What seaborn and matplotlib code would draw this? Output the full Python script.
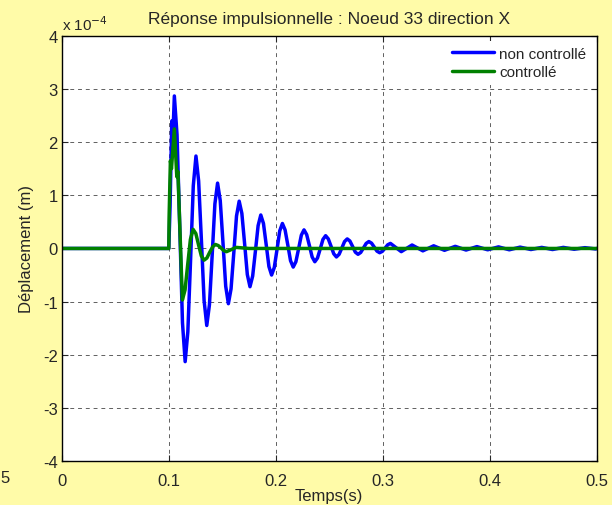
import pandas as pd
import matplotlib
matplotlib.use("Agg")
import matplotlib.pyplot as plt
import seaborn as sns

# displacement values are in units of 1e-4 m
t_non = [0.0, 0.1, 0.1012, 0.1028, 0.1038, 0.1052,
         0.1077, 0.1103, 0.1128, 0.1153,
         0.1178, 0.1204, 0.1229, 0.1254,
         0.1279, 0.1305, 0.133, 0.1355,
         0.138, 0.1406, 0.1431, 0.1456,
         0.1481, 0.1507, 0.1532, 0.1557,
         0.1582, 0.1608, 0.1633, 0.1658,
         0.1683, 0.1709, 0.1734, 0.1759,
         0.1784, 0.181, 0.1835, 0.186,
         0.1885, 0.1911, 0.1936, 0.1961,
         0.1986, 0.2012, 0.2037, 0.2062,
         0.2087, 0.2113, 0.2138, 0.2163,
         0.2188, 0.2214, 0.2239, 0.2264,
         0.2289, 0.2315, 0.234, 0.2365,
         0.239, 0.2416, 0.2441, 0.2466,
         0.2491, 0.2517, 0.2542, 0.2567,
         0.2592, 0.2618, 0.2643, 0.2668,
         0.2693, 0.2719, 0.2744, 0.2769,
         0.2794, 0.282, 0.2845, 0.287,
         0.2895, 0.2921, 0.2946, 0.2971,
         0.2996, 0.3022, 0.3047, 0.3072,
         0.3173, 0.3274, 0.3375, 0.3476, 0.3577, 0.3678, 0.3779, 0.388,
         0.3981, 0.4082, 0.4183, 0.4284, 0.4385, 0.4486, 0.4587, 0.4688,
         0.4789, 0.489, 0.4991, 0.5]
y_non = [0.0, 0.0, 0.8, 2.4, 2.1, 2.87,
         2.14, 0.37, -1.40, -2.13,
         -1.57, -0.20, 1.18, 1.74,
         1.27, 0.15, -0.98, -1.45,
         -1.06, -0.11, 0.84, 1.23,
         0.90, 0.095, -0.71, -1.04,
         -0.76, -0.075, 0.61, 0.89,
         0.66, 0.085, -0.49, -0.72,
         -0.52, -0.045, 0.43, 0.63,
         0.47, 0.065, -0.34, -0.50,
         -0.36, -0.015, 0.33, 0.47,
         0.35, 0.06, -0.23, -0.35,
         -0.25, 0.0, 0.25, 0.35,
         0.26, 0.05, -0.16, -0.25,
         -0.18, -0.005, 0.17, 0.24,
         0.18, 0.04, -0.10, -0.16,
         -0.11, 0.01, 0.13, 0.18,
         0.14, 0.035, -0.07, -0.11,
         -0.075, 0.01, 0.095, 0.13,
         0.10, 0.025, -0.05, -0.08,
         -0.055, 0.008, 0.07, 0.095,
         -0.06, 0.065, -0.045, 0.05, -0.035, 0.04, -0.03, 0.035,
         -0.025, 0.03, -0.025, 0.025, -0.02, 0.02, -0.02, 0.02,
         -0.015, 0.015, -0.01, 0.0]

t_ctrl = [0.0, 0.1, 0.1003, 0.1015, 0.1025, 0.1052, 0.1075, 0.1085, 0.1127,
          0.1152, 0.1177, 0.1202, 0.1227,
          0.1253, 0.1278, 0.1304, 0.133,
          0.1356, 0.1383, 0.141, 0.1436,
          0.1462, 0.1488, 0.1514, 0.154,
          0.163, 0.175, 0.5]
y_ctrl = [0.0, 0.0, 0.6, 1.65, 1.5, 2.25, 1.35, 1.45, -0.97,
          -0.78, -0.30, 0.17, 0.36,
          0.28, 0.07, -0.14, -0.22,
          -0.18, -0.07, 0.03, 0.075,
          0.055, 0.01, -0.04, -0.06,
          0.02, 0.0, 0.0]

labels = ["non controllé", "controllé"]
colors = ["#0000FF", "#008000"]
xticks = [0, 0.1, 0.2, 0.3, 0.4, 0.5]
xtick_labels = ["0", "0.1", "0.2", "0.3", "0.4", "0.5"]
yticks = [-4, -3, -2, -1, 0, 1, 2, 3, 4]

df = pd.concat([
    pd.DataFrame({"t": t_non, "y": y_non, "serie": labels[0]}),
    pd.DataFrame({"t": t_ctrl, "y": y_ctrl, "serie": labels[1]}),
], ignore_index=True)

sns.set_style("ticks")
plt.rcParams["font.family"] = ["Liberation Sans", "DejaVu Sans"]
plt.rcParams["axes.unicode_minus"] = False
bg = "#FFFBA8"

fig = plt.figure(figsize=(6.12, 5.06), dpi=100, facecolor=bg)
ax = fig.add_axes([0.101, 0.087, 0.874, 0.840])
ax.set_facecolor("white")

sns.lineplot(data=df, x="t", y="y", hue="serie", palette=colors, hue_order=labels,
             estimator=None, sort=False, linewidth=2.5, solid_joinstyle="round", ax=ax)

ax.set_xlim(0, 0.5)
ax.set_ylim(-4, 4)
ax.set_xticks(xticks)
ax.set_xticklabels(xtick_labels)
ax.set_yticks(yticks)
ax.tick_params(direction="in", labelsize=12, length=4, width=0.8, top=True, right=True)
ax.tick_params(axis="x", pad=9)
ax.tick_params(axis="y", pad=3)
ax.grid(True, color="#606060", linestyle=(0, (4, 4)), linewidth=0.7)
for s in ax.spines.values():
    s.set_linewidth(1.0)
    s.set_color("black")

ax.set_xlabel("Temps(s)", fontsize=12, labelpad=0)
ax.set_ylabel("Déplacement (m)", fontsize=12, labelpad=6)
ax.set_title("Réponse impulsionnelle : Noeud 33 direction X", fontsize=12.5, pad=9)
ax.text(0.0, 1.006, r"x 10$^{-4}$", transform=ax.transAxes, fontsize=11, ha="left", va="bottom")
fig.text(0.0, 0.055, "5", fontsize=12, ha="left", va="center")

leg = ax.legend(loc="upper right", fontsize=11, handlelength=2.8, frameon=True,
                borderaxespad=0.3, handletextpad=0.3, labelspacing=0.3)
leg.get_frame().set_edgecolor("none")
leg.get_frame().set_facecolor("white")
leg.get_frame().set_alpha(1)

fig.savefig("out.png", dpi=100, facecolor=bg)
